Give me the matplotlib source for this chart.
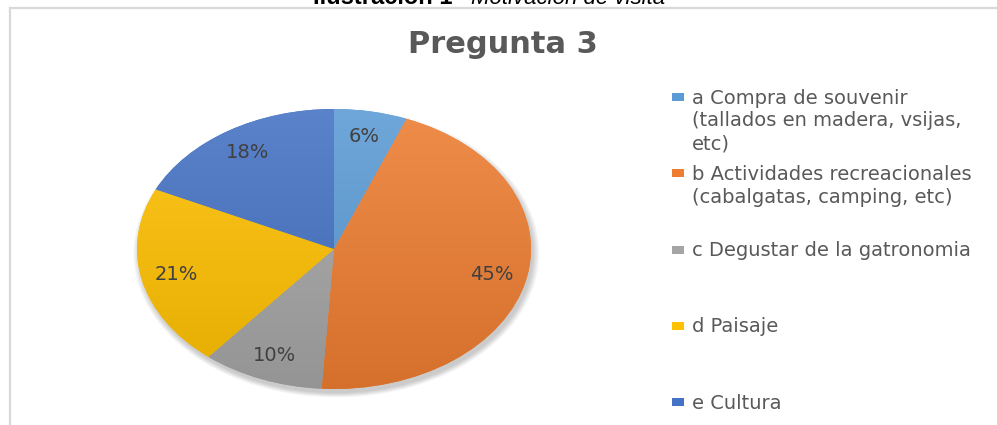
import numpy as np
import matplotlib
matplotlib.use("Agg")
import matplotlib.pyplot as plt
import matplotlib.colors as mcolors
from matplotlib.lines import Line2D
from matplotlib.patches import Ellipse, Rectangle

# Data
labels = ["a Compra de souvenir\n(tallados en madera, vsijas,\netc)",
          "b Actividades recreacionales\n(cabalgatas, camping, etc)",
          "c Degustar de la gatronomia",
          "d Paisaje",
          "e Cultura"]
values = [6, 45, 10, 21, 18]
colors = ["#5B9BD5", "#ED7D31", "#A5A5A5", "#FFC000", "#4472C4"]
title = "Pregunta 3"
caption_bold = "Ilustración 1"
caption_italic = "Motivación de visita"

W, H = 997, 425
fig = plt.figure(figsize=(W / 100, H / 100), dpi=100)

# pie is stretched horizontally in the reference, so use a non-equal aspect
cx, cy, rx, ry = 334, 249, 197, 140
pad = 1.06
ax = fig.add_axes([(cx - rx * pad) / W, (H - cy - ry * pad) / H,
                   2 * rx * pad / W, 2 * ry * pad / H])

# soft drop shadow
for k in range(6):
    ax.add_patch(Ellipse((0.012, -0.03), 2.0 + k * 0.012, 2.0 + k * 0.012,
                         facecolor="black", edgecolor="none", alpha=0.035,
                         zorder=0))

wedges, texts, autotexts = ax.pie(values, colors=colors, startangle=90,
                                  counterclock=False, autopct="%1.0f%%",
                                  pctdistance=0.82,
                                  wedgeprops=dict(edgecolor="none"),
                                  textprops=dict(color="#404040",
                                                 fontsize=14,
                                                 family="DejaVu Sans"))
ax.set_aspect("auto")
ax.set_xlim(-pad, pad)
ax.set_ylim(-pad, pad)
ax.axis("off")

# vertical gradient inside each wedge (lighter top, darker bottom)
t = np.linspace(0, 1, 256)[:, None, None]
for w, col in zip(wedges, colors):
    rgb = np.array(mcolors.to_rgb(col))
    top = rgb + (1 - rgb) * 0.12
    bot = rgb * 0.9
    grad = top * (1 - t) + bot * t
    im = ax.imshow(grad, extent=(-1, 1, -1, 1), aspect="auto",
                   origin="upper", zorder=w.get_zorder() + 0.1)
    im.set_clip_path(w)
for a in autotexts:
    a.set_zorder(5)

# title
fig.text(503 / W, 1 - 53 / H, title, ha="center", va="baseline",
         fontsize=22, fontweight="bold", color="#595959",
         family="DejaVu Sans")

# legend drawn by hand, entries evenly spaced like Excel does
for i, (lab, col) in enumerate(zip(labels, colors)):
    yc = 97 + i * 76.3
    fig.add_artist(Rectangle((672 / W, 1 - (yc + 4) / H), 12 / W, 8 / H,
                             transform=fig.transFigure, facecolor=col,
                             edgecolor="none"))
    for j, line in enumerate(lab.split("\n")):
        fig.text(692 / W, 1 - (yc + 6.5 + j * 23) / H, line, ha="left",
                 va="baseline", fontsize=14, color="#595959",
                 family="DejaVu Sans")

# frame of the chart area
fig.add_artist(Line2D([10 / W, 1], [1 - 7.5 / H, 1 - 7.5 / H],
                      transform=fig.transFigure, color="#D9D9D9", lw=1.6))
fig.add_artist(Line2D([10 / W, 10 / W], [0, 1 - 7.5 / H],
                      transform=fig.transFigure, color="#D9D9D9", lw=1.6))

# caption cut off at the top edge
fig.text(313 / W, 1 - 4.5 / H, caption_bold, ha="left", va="baseline",
         fontsize=17, fontweight="bold", color="black",
         family="Liberation Sans")
fig.text(471 / W, 1 - 4.5 / H, caption_italic, ha="left", va="baseline",
         fontsize=16, fontstyle="italic", color="black",
         family="Liberation Sans")

fig.savefig("out.png", dpi=100)
